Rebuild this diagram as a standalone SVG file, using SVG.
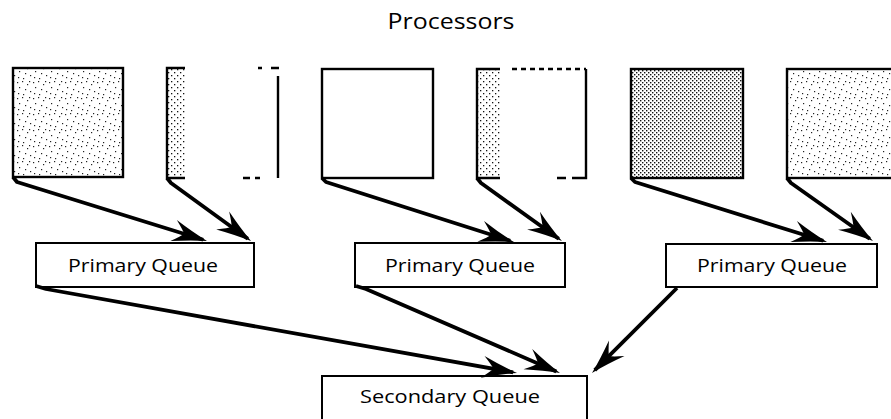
<svg xmlns="http://www.w3.org/2000/svg" width="891" height="419" viewBox="0 0 891 419">
  <style>
    .lbl { font-family: "Open Sans", "Liberation Sans", sans-serif; font-size: 18px; fill: #000; text-anchor: middle; }
    .title { font-family: "Open Sans", "Liberation Sans", sans-serif; font-size: 21px; fill: #000; text-anchor: middle; }
    .qbox { fill: #fff; stroke: #000; stroke-width: 2; }
    .edge { fill: none; stroke: #000; stroke-width: 3.8; stroke-linejoin: round; marker-end: url(#barb); }
    .rim { fill: none; stroke: #000; stroke-width: 2.4; }
  </style>
  <defs>
    <!-- barbed arrowhead, tip 4 units past the line end -->
    <marker id="barb" markerUnits="userSpaceOnUse" markerWidth="42" markerHeight="28" viewBox="-34 -14 40 28" refX="0" refY="0" orient="auto">
      <path d="M4,0 Q-12,-4 -31,-11 Q-22,-3 -20,0 Q-22,3 -31,11 Q-12,4 4,0 Z" fill="#000"/>
    </marker>
    <!-- dense stipple -->
    <pattern id="dense" width="4" height="4" patternUnits="userSpaceOnUse">
      <rect x="0" y="0" width="1.4" height="1.4" fill="#111"/>
      <rect x="2" y="2" width="1.4" height="1.4" fill="#111"/>
    </pattern>
    <!-- light irregular stipple -->
    <pattern id="sparse" width="16" height="16" patternUnits="userSpaceOnUse">
      <rect x="1" y="2" width="1.2" height="1.2" fill="#222"/>
      <rect x="6" y="1" width="1.2" height="1.2" fill="#222"/>
      <rect x="11" y="4" width="1.2" height="1.2" fill="#222"/>
      <rect x="3" y="7" width="1.2" height="1.2" fill="#222"/>
      <rect x="9" y="9" width="1.2" height="1.2" fill="#222"/>
      <rect x="14" y="11" width="1.2" height="1.2" fill="#222"/>
      <rect x="2" y="13" width="1.2" height="1.2" fill="#222"/>
      <rect x="7" y="14" width="1.2" height="1.2" fill="#222"/>
      <rect x="13" y="1" width="1.2" height="1.2" fill="#222"/>
    </pattern>
    <!-- medium stipple for partial strips -->
    <pattern id="medium" width="6" height="6" patternUnits="userSpaceOnUse">
      <rect x="0" y="0" width="1.3" height="1.3" fill="#111"/>
      <rect x="3" y="3" width="1.3" height="1.3" fill="#111"/>
    </pattern>
  </defs>

  <text class="title" x="451" y="29" textLength="127" lengthAdjust="spacingAndGlyphs">Processors</text>

  <!-- processors -->
  <g id="proc1">
    <rect x="13" y="68" width="110" height="109" fill="url(#sparse)"/>
    <rect x="13" y="68" width="110" height="109" class="rim"/>
  </g>
  <g id="proc2">
    <rect x="167" y="68" width="18" height="110" fill="url(#medium)"/>
    <path class="rim" d="M185,68 H167 V178 H185"/>
    <path class="rim" d="M258,68 h4 M271,68 h8 M278,76 V178 M243,178 h7 M255,178 h5"/>
  </g>
  <g id="proc3">
    <rect x="322" y="69" width="111" height="109" class="rim" fill="#fff"/>
  </g>
  <g id="proc4">
    <rect x="477" y="69" width="23" height="109" fill="url(#medium)"/>
    <path class="rim" d="M500,69 H477 V178 H500"/>
    <path class="rim" d="M512,69 H586" stroke-dasharray="5,4"/>
    <path class="rim" d="M586,69 V178 H572 M566,178 h-9"/>
  </g>
  <g id="proc5">
    <rect x="631" y="69" width="112" height="109" fill="url(#dense)"/>
    <rect x="631" y="69" width="112" height="109" class="rim"/>
  </g>
  <g id="proc6">
    <rect x="787" y="69" width="115" height="109" fill="url(#sparse)"/>
    <rect x="787" y="69" width="115" height="109" class="rim"/>
  </g>

  <!-- queues -->
  <g id="pq1">
    <rect class="qbox" x="36" y="243" width="218" height="44"/>
    <text class="lbl" x="143" y="272" textLength="150" lengthAdjust="spacingAndGlyphs">Primary Queue</text>
  </g>
  <g id="pq2">
    <rect class="qbox" x="355" y="243" width="210" height="44"/>
    <text class="lbl" x="460" y="272" textLength="150" lengthAdjust="spacingAndGlyphs">Primary Queue</text>
  </g>
  <g id="pq3">
    <rect class="qbox" x="666" y="244" width="211" height="43"/>
    <text class="lbl" x="772" y="272" textLength="150" lengthAdjust="spacingAndGlyphs">Primary Queue</text>
  </g>
  <g id="sq">
    <rect class="qbox" x="322" y="376" width="265" height="46"/>
    <text class="lbl" x="450" y="403" textLength="180" lengthAdjust="spacingAndGlyphs">Secondary Queue</text>
  </g>

  <!-- connectors -->
  <g id="connectors">
    <path class="edge" d="M13,177 L17,182 L203.2,239.8"/>
    <path class="edge" d="M167,178 L171,183 L247.8,238.7"/>
    <path class="edge" d="M322,178 L326,182 L510.2,240.8"/>
    <path class="edge" d="M477,178 L481,183 L558.7,238.7"/>
    <path class="edge" d="M631,178 L635,182 L823.2,240.8"/>
    <path class="edge" d="M787,178 L791,183 L869.7,238.7"/>
    <path class="edge" d="M36,286 L46,289 L513.1,372.3"/>
    <path class="edge" d="M356,286 L366,289 L556.3,371.4"/>
    <path class="edge" d="M677,288 L594.8,370.2"/>
  </g>
</svg>
